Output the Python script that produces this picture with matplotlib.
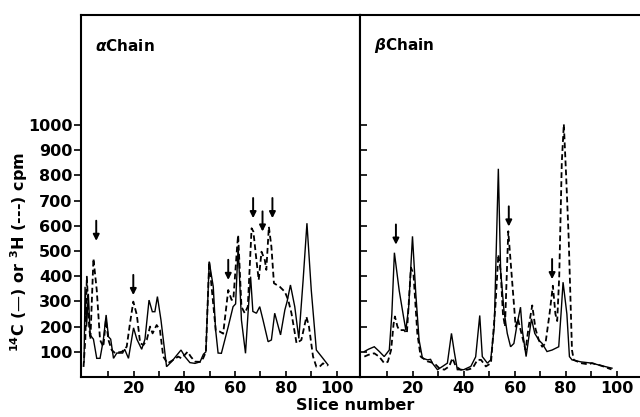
import matplotlib
matplotlib.use("Agg")
import matplotlib.pyplot as plt

# ---------------- data ----------------
# alpha chain, 14C (solid)
a_c14_x = [0.5, 0.9, 1.5, 2.2, 2.9, 4.2, 5.5, 6.8, 8.1, 9.2, 10.1, 11.0, 12.1, 13.4, 15.7, 16.5, 18.0,
           20.0, 21.3, 23.2, 24.5, 26.1, 27.4, 28.4, 29.4, 30.8, 33.0, 35.0, 36.5, 38.7, 40.3, 42.2, 44.2,
           46.2, 47.5, 48.5, 49.8, 51.4, 52.3, 53.3, 54.6, 57.3, 59.2, 60.2, 61.2, 62.5, 64.1, 65.1, 66.1,
           67.0, 68.4, 69.7, 71.0, 73.0, 74.3, 75.6, 77.9, 79.6, 80.5, 81.8, 83.5, 85.1, 86.8, 88.3, 90.0,
           92.0, 94.6, 96.6]
a_c14_y = [60, 358, 200, 330, 167, 150, 74, 74, 147, 246, 160, 150, 74, 95, 95, 110, 74,
           195, 150, 110, 150, 305, 259, 259, 319, 226, 41, 61, 80, 107, 80, 57, 54,
           60, 90, 100, 458, 358, 190, 95, 94, 200, 279, 290, 517, 226, 94, 254, 398,
           260, 253, 279, 226, 140, 147, 253, 167, 266, 300, 365, 279, 153, 385, 610, 345,
           107, 74, 48]
# alpha chain, 3H (dashed)
a_h3_x = [0.3, 1.0, 1.6, 2.5, 3.0, 4.2, 5.5, 6.8, 8.1, 9.1, 10.1, 11.4, 12.7, 15.4, 17.3, 18.6, 19.9,
          21.3, 22.6, 23.9, 25.2, 26.5, 27.5, 29.1, 30.4, 31.7, 33.4, 35.5, 37.6, 38.9, 41.3, 42.6, 44.2,
          46.2, 47.4, 48.5, 49.8, 51.0, 52.4, 54.0, 55.3, 57.3, 58.6, 59.3, 60.8, 61.2, 62.5, 63.8, 65.0,
          66.5, 67.2, 68.4, 69.3, 70.4, 71.7, 72.3, 73.3, 74.3, 75.3, 77.6, 79.6, 80.9, 82.2, 84.2, 86.1,
          88.1, 89.1, 90.7, 92.0, 93.3, 94.6, 96.5]
a_h3_y = [40, 150, 398, 200, 150, 470, 345, 147, 120, 226, 147, 107, 95, 100, 120, 213, 299,
          246, 134, 127, 147, 200, 173, 206, 186, 81, 54, 67, 81, 74, 100, 80, 61,
          60, 74, 100, 458, 330, 183, 180, 172, 345, 306, 306, 517, 563, 279, 253, 279,
          590, 577, 464, 385, 497, 464, 425, 596, 517, 372, 358, 338, 306, 253, 134, 147,
          239, 200, 81, 41, 41, 54, 45]

# beta chain, 14C (solid)
b_c14_x = [1.0, 2.6, 4.9, 6.9, 8.8, 10.8, 11.8, 12.8, 14.7, 16.4, 17.3, 18.4, 19.9, 21.2, 22.5, 23.8,
           25.8, 27.0, 27.7, 29.7, 31.7, 33.6, 35.2, 36.3, 37.5, 40.0, 42.8, 44.7, 46.3, 47.3, 49.3, 50.6,
           52.0, 53.6, 54.5, 55.8, 57.1, 58.4, 59.7, 61.0, 62.3, 63.0, 64.5, 65.6, 66.6, 67.9, 69.5, 70.8,
           72.7, 74.7, 77.3, 78.2, 79.0, 80.5, 81.5, 82.5, 86.0, 90.3, 94.0, 98.2]
b_c14_y = [101, 110, 120, 101, 81, 107, 250, 493, 342, 238, 186, 277, 558, 330, 146, 75,
           68, 70, 55, 29, 42, 55, 173, 100, 29, 29, 42, 80, 244, 81, 55, 68,
           200, 826, 421, 264, 173, 120, 133, 212, 277, 186, 81, 160, 231, 173, 146, 133,
           101, 107, 120, 250, 376, 250, 81, 68, 60, 55, 45, 35]
# beta chain, 3H (dashed)
b_h3_x = [1.0, 2.6, 4.9, 6.9, 8.8, 10.2, 11.5, 12.5, 13.0, 14.0, 14.7, 16.6, 17.7, 19.3, 20.3, 21.8,
          23.1, 25.8, 28.4, 30.4, 32.4, 34.3, 35.6, 36.9, 38.8, 41.5, 43.5, 45.4, 46.8, 48.7, 50.7, 51.2,
          52.5, 53.6, 54.5, 55.4, 56.2, 57.5, 58.7, 60.4, 61.3, 62.0, 63.0, 64.3, 65.5, 66.9, 68.2, 69.5,
          70.8, 72.1, 73.7, 75.0, 76.0, 76.7, 77.5, 78.5, 79.3, 80.2, 81.2, 82.5, 83.2, 86.0, 89.0, 90.3,
          94.0, 98.0]
b_h3_y = [81, 88, 94, 80, 55, 60, 107, 212, 240, 200, 186, 186, 173, 434, 408, 173,
          81, 62, 55, 35, 29, 42, 75, 42, 29, 29, 35, 68, 68, 42, 55, 120,
          290, 486, 421, 251, 200, 578, 421, 200, 230, 200, 160, 107, 200, 284, 190, 146,
          120, 133, 251, 362, 250, 222, 400, 850, 1003, 800, 553, 107, 68, 55, 50, 55,
          45, 30]

# arrows (slice, tip value)
a_arrow_x = [5.3, 19.9, 57.3, 67.1, 70.8, 74.7]
a_arrow_y = [540, 325, 385, 630, 577, 630]
b_arrow_x = [13.4, 57.7, 74.7]
b_arrow_y = [525, 597, 388]

y_ticks = [100, 200, 300, 400, 500, 600, 700, 800, 900, 1000]
x_major = [20, 40, 60, 80, 100]
x_minor = [10, 30, 50, 70, 90]
panel_titles = [r"$\alpha$Chain", r"$\beta$Chain"]

# ---------------- figure ----------------
plt.rcParams['font.family'] = ['DejaVu Sans']
plt.rcParams['font.weight'] = 'bold'
plt.rcParams['mathtext.default'] = 'it'

fig = plt.figure(figsize=(6.4, 4.17), dpi=100)
ax1 = fig.add_axes([81 / 640, 40 / 417, 279 / 640, 362 / 417])
ax2 = fig.add_axes([360 / 640, 40 / 417, 280 / 640, 362 / 417])

dash = (0, (3.2, 1.8))
for ax, cx, cy, hx, hy, ax_x, ax_y, title in [
        (ax1, a_c14_x, a_c14_y, a_h3_x, a_h3_y, a_arrow_x, a_arrow_y, panel_titles[0]),
        (ax2, b_c14_x, b_c14_y, b_h3_x, b_h3_y, b_arrow_x, b_arrow_y, panel_titles[1])]:
    ax.plot(cx, cy, color='black', lw=1.0, solid_joinstyle='miter')
    ax.plot(hx, hy, color='black', lw=1.3, linestyle=dash)
    ax.set_xlim(-0.7, 109.2)
    ax.set_ylim(0, 1436)
    for xa, ya in zip(ax_x, ax_y):
        ax.annotate('', xy=(xa, ya), xytext=(xa, ya + 80),
                    arrowprops=dict(arrowstyle='-|>', color='black', lw=1.4,
                                    mutation_scale=9, shrinkA=0, shrinkB=0))
    ax.text(0.05, 0.915, title, transform=ax.transAxes, fontsize=11,
            fontweight='bold', va='center', ha='left')
    ax.set_xticks(x_major)
    ax.set_xticks(x_minor, minor=True)
    ax.set_xticklabels([str(v) for v in x_major], fontsize=11.5, fontweight='bold')
    ax.tick_params(axis='x', which='both', direction='in', length=4, width=1.2, pad=3)
    ax.set_yticks(y_ticks)
    for s in ax.spines.values():
        s.set_linewidth(1.5)

ax1.set_yticklabels([str(v) for v in y_ticks], fontsize=11.5, fontweight='bold')
ax1.tick_params(axis='y', direction='out', length=5, width=1.2, pad=1)
ax2.tick_params(axis='y', direction='in', length=5, width=1.2, labelleft=False)
ax2.spines['right'].set_visible(False)

fig.text(0.555, 0.028, 'Slice number', ha='center', va='center', fontsize=11.5,
         fontweight='bold')
fig.text(0.03, 0.395, r'$^{\mathbf{14}}$C (—) or $^{\mathbf{3}}$H (---) cpm', rotation=90,
         ha='center', va='center', fontsize=11.5, fontweight='bold')

fig.savefig('out.png', dpi=100)
